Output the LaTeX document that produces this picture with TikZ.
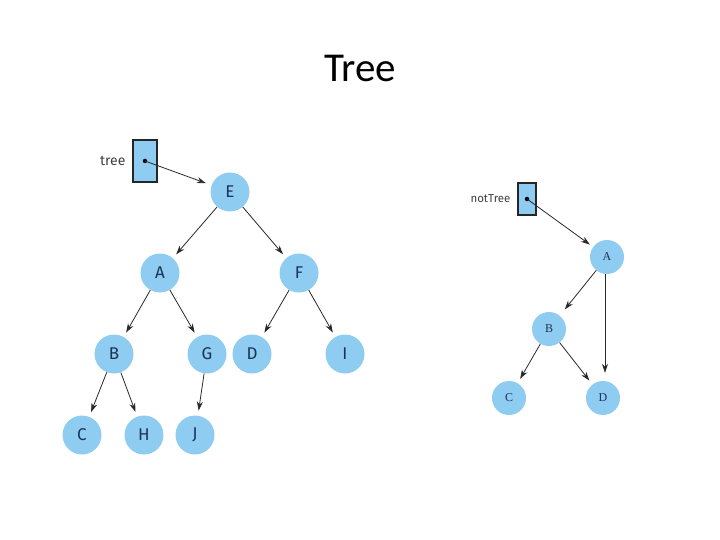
\documentclass[tikz,border=0pt]{standalone}
\usepackage{fontspec}
\setmainfont{Carlito}
\newfontfamily\nodefont{Fira Sans}
\newfontfamily\smallfont{Liberation Serif}
\usepackage{xcolor}
\usetikzlibrary{positioning,arrows.meta}
\definecolor{nodoazul}{RGB}{142,204,242}
\definecolor{letra}{RGB}{30,50,85}
\definecolor{linea}{RGB}{40,40,45}

\begin{document}
\begin{tikzpicture}[x=1pt,y=-1pt,
  nodo/.style={circle, fill=nodoazul, minimum size=39pt, inner sep=0pt, text=letra, font=\nodefont\fontsize{17}{19}\selectfont},
  nodito/.style={circle, fill=nodoazul, minimum size=34pt, inner sep=0pt, text=letra, font=\smallfont\fontsize{12}{14}\selectfont},
  caja/.style={draw=black!85, line width=2.2pt, fill=nodoazul, inner sep=0pt},
  punto/.style={circle, fill=black, inner sep=0pt, minimum size=4.5pt},
  flecha/.style={-{Stealth[length=9pt,width=6pt]}, linea, line width=0.8pt, shorten >=5pt}]
\useasboundingbox (0,0) rectangle (720,540);
\node[font=\fontsize{41}{48}\selectfont] (titulo) at (360,68) {Tree};
% arbol de la izquierda
\node[caja, minimum width=24pt, minimum height=42pt] (tbox) at (145,161) {};
\node[punto] (tdot) at (145,161) {};
\node[left=3pt of tbox, font=\nodefont\fontsize{14}{16}\selectfont, text=black!75] (tlabel) {tree};
\node[nodo] (E) at (230,192) {E};
\node[nodo] (A) at (160,273) {A};
\node[nodo] (F) at (299,273) {F};
\node[nodo] (B) at (114,354) {B};
\node[nodo] (G) at (207,354) {G};
\node[nodo] (D) at (252,354) {D};
\node[nodo] (I) at (345,354) {I};
\node[nodo] (C) at (82,435) {C};
\node[nodo] (H) at (144,435) {H};
\node[nodo] (J) at (195,435) {J};
\draw[flecha, shorten >=6pt] (tdot.center) -- (E);
\foreach \a/\b in {E/A, E/F, A/B, A/G, F/D, F/I, B/C, B/H, G/J} \draw[flecha] (\a) -- (\b);
% arbol de la derecha
\node[caja, minimum width=18pt, minimum height=32pt] (nbox) at (527,199) {};
\node[punto] (ndot) at (527,199) {};
\node[left=3pt of nbox, font=\nodefont\fontsize{11.5}{13}\selectfont, text=black!75] (nlabel) {notTree};
\node[nodito] (nA) at (607,257) {A};
\node[nodito] (nB) at (549,329) {B};
\node[nodito] (nC) at (509,398) {C};
\node[nodito] (nD) at (603,398) {D};
\draw[flecha, shorten >=4pt] (ndot.center) -- (nA);
\draw[flecha, shorten >=8pt] (nA) -- (nB);
\draw[flecha, shorten >=8pt] (nA.south -| 605,0) -- (nD.north -| 605,0);
\foreach \a/\b in {nB/nC, nB/nD} \draw[flecha] (\a) -- (\b);
\end{tikzpicture}
\end{document}
